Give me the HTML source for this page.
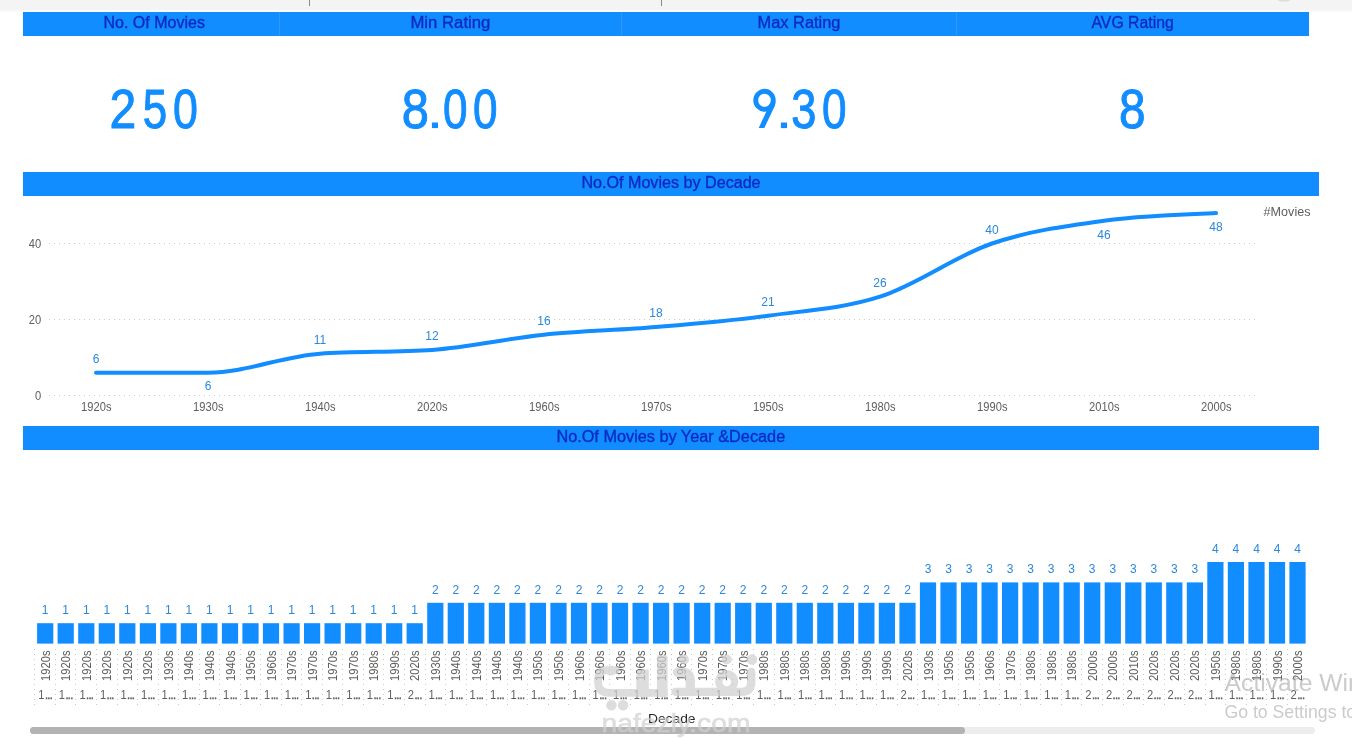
<!DOCTYPE html>
<html><head><meta charset="utf-8"><title>Movies Dashboard</title>
<style>
html,body{margin:0;padding:0;background:#fff;}
body{width:1352px;height:738px;overflow:hidden;position:relative;font-family:"Liberation Sans",sans-serif;}
svg{position:absolute;left:0;top:0;display:block;will-change:transform;opacity:0.999}
text{font-family:"Liberation Sans",sans-serif;}
.h{font-size:16px;fill:#0B2BC4;stroke:#0B2BC4;stroke-width:0.35px;text-anchor:middle}
.big{font-size:55px;fill:#118DFF;text-anchor:middle}
.ax{font-size:12px;fill:#605E5C}
.dl{font-size:12px;fill:#2B88DC;text-anchor:middle}
.grid{stroke:#cdcbc9;stroke-width:1;stroke-dasharray:1 4;fill:none}
.vgrid{stroke:#cbc9c7;stroke-width:1;stroke-dasharray:1 4;fill:none}
</style></head><body>
<svg width="1352" height="738" viewBox="0 0 1352 738">
<rect x="0" y="0" width="1352" height="10.5" fill="#f4f4f4"/>
<rect x="0" y="10.5" width="1352" height="1.5" fill="#f9f9f9"/>
<ellipse cx="1284" cy="0" rx="6" ry="1.6" fill="#dcdcdc"/>
<rect x="309" y="0" width="1" height="6" fill="#8a8a8a"/>
<rect x="661" y="0" width="1" height="6" fill="#8a8a8a"/>
<rect x="23" y="12" width="1286" height="24" fill="#118DFF"/>
<rect x="279" y="12" width="1" height="24" fill="#3aa0ff" opacity="0.6"/>
<rect x="621" y="12" width="1" height="24" fill="#3aa0ff" opacity="0.6"/>
<rect x="956" y="12" width="1" height="24" fill="#3aa0ff" opacity="0.6"/>
<rect x="23" y="172" width="1296" height="24" fill="#118DFF"/>
<rect x="23" y="426" width="1296" height="24" fill="#118DFF"/>
<text class="h" x="154.2" y="27.7" textLength="101.5" lengthAdjust="spacingAndGlyphs">No. Of Movies</text>
<text class="h" x="450.4" y="27.7" textLength="80.0" lengthAdjust="spacingAndGlyphs">Min Rating</text>
<text class="h" x="799.0" y="27.7" textLength="82.8" lengthAdjust="spacingAndGlyphs">Max Rating</text>
<text class="h" x="1132.6" y="27.7" textLength="82.2" lengthAdjust="spacingAndGlyphs">AVG Rating</text>
<text class="h" x="671.0" y="187.7" textLength="179.2" lengthAdjust="spacingAndGlyphs">No.Of Movies by Decade</text>
<text class="h" x="670.8" y="441.7" textLength="228.8" lengthAdjust="spacingAndGlyphs">No.Of Movies by Year &amp;Decade</text>
<text transform="translate(109.38,128.0) scale(0.879,1)" font-size="54.7" fill="#118DFF" stroke="#118DFF" stroke-width="1.0">2</text>
<text transform="translate(142.64,128.0) scale(0.802,1)" font-size="54.7" fill="#118DFF" stroke="#118DFF" stroke-width="1.0">5</text>
<text transform="translate(173.05,128.0) scale(0.818,1)" font-size="54.7" fill="#118DFF" stroke="#118DFF" stroke-width="1.0">0</text>
<text transform="translate(401.68,128.0) scale(0.892,1)" font-size="54.7" fill="#118DFF" stroke="#118DFF" stroke-width="1.0">8</text>
<rect x="431.9" y="122.5" width="6.1" height="5.6" fill="#118DFF"/>
<text transform="translate(442.98,128.0) scale(0.807,1)" font-size="54.7" fill="#118DFF" stroke="#118DFF" stroke-width="1.0">0</text>
<text transform="translate(472.98,128.0) scale(0.807,1)" font-size="54.7" fill="#118DFF" stroke="#118DFF" stroke-width="1.0">0</text>
<rect x="780.9" y="122.5" width="6.1" height="5.6" fill="#118DFF"/>
<text transform="translate(791.18,128.0) scale(0.825,1)" font-size="54.7" fill="#118DFF" stroke="#118DFF" stroke-width="1.0">3</text>
<text transform="translate(821.98,128.0) scale(0.807,1)" font-size="54.7" fill="#118DFF" stroke="#118DFF" stroke-width="1.0">0</text>
<ellipse cx="764.5" cy="100.25" rx="8.75" ry="9.0" fill="none" stroke="#118DFF" stroke-width="4.9"/>
<path d="M770.1,103.2 L775.65,103.2 L775.7,100.2 L775.0,105.5 L764.3,128.1 L758.7,128.1 Z" fill="#118DFF"/>
<text transform="translate(1119.03,128.0) scale(0.873,1)" font-size="54.7" fill="#118DFF" stroke="#118DFF" stroke-width="1.0">8</text>
<line class="grid" x1="49" y1="395.5" x2="1259" y2="395.5"/>
<text class="ax" transform="translate(41.2,399.8) scale(0.93,1)" text-anchor="end">0</text>
<line class="grid" x1="49" y1="319.5" x2="1259" y2="319.5"/>
<text class="ax" transform="translate(41.2,323.8) scale(0.93,1)" text-anchor="end">20</text>
<line class="grid" x1="49" y1="243.5" x2="1259" y2="243.5"/>
<text class="ax" transform="translate(41.2,247.8) scale(0.93,1)" text-anchor="end">40</text>
<path d="M96.0,372.7C133.3,372.7 170.7,372.7 208.0,372.7C245.3,372.7 282.7,356.2 320.0,353.7C357.3,351.2 394.7,352.4 432.0,349.9C469.3,347.4 506.7,338.5 544.0,334.7C581.3,330.9 618.7,330.3 656.0,327.1C693.3,323.9 730.7,320.8 768.0,315.7C805.3,310.6 842.7,308.7 880.0,296.7C917.3,284.7 954.7,256.2 992.0,243.5C1029.3,230.8 1066.7,225.8 1104.0,220.7C1141.3,215.6 1178.7,214.4 1216.0,213.1" fill="none" stroke="#118DFF" stroke-width="4" stroke-linecap="round" stroke-linejoin="round"/>
<text class="dl" x="96.0" y="363.2">6</text>
<text class="dl" x="208.0" y="389.8">6</text>
<text class="dl" x="320.0" y="344.3">11</text>
<text class="dl" x="432.0" y="339.8">12</text>
<text class="dl" x="544.0" y="325.4">16</text>
<text class="dl" x="656.0" y="316.8">18</text>
<text class="dl" x="768.0" y="306.0">21</text>
<text class="dl" x="880.0" y="286.9">26</text>
<text class="dl" x="992.0" y="233.8">40</text>
<text class="dl" x="1104.0" y="238.8">46</text>
<text class="dl" x="1216.0" y="231.1">48</text>
<text class="ax" transform="translate(96.3,411.3) scale(0.93,1)" text-anchor="middle">1920s</text>
<text class="ax" transform="translate(208.3,411.3) scale(0.93,1)" text-anchor="middle">1930s</text>
<text class="ax" transform="translate(320.3,411.3) scale(0.93,1)" text-anchor="middle">1940s</text>
<text class="ax" transform="translate(432.3,411.3) scale(0.93,1)" text-anchor="middle">2020s</text>
<text class="ax" transform="translate(544.3,411.3) scale(0.93,1)" text-anchor="middle">1960s</text>
<text class="ax" transform="translate(656.3,411.3) scale(0.93,1)" text-anchor="middle">1970s</text>
<text class="ax" transform="translate(768.3,411.3) scale(0.93,1)" text-anchor="middle">1950s</text>
<text class="ax" transform="translate(880.3,411.3) scale(0.93,1)" text-anchor="middle">1980s</text>
<text class="ax" transform="translate(992.3,411.3) scale(0.93,1)" text-anchor="middle">1990s</text>
<text class="ax" transform="translate(1104.3,411.3) scale(0.93,1)" text-anchor="middle">2010s</text>
<text class="ax" transform="translate(1216.3,411.3) scale(0.93,1)" text-anchor="middle">2000s</text>
<text class="ax" transform="translate(1310.5,215.8) scale(1.05,1)" text-anchor="end">#Movies</text>
<line class="vgrid" x1="34.5" y1="649" x2="34.5" y2="706"/>
<line class="vgrid" x1="55.5" y1="649" x2="55.5" y2="706"/>
<line class="vgrid" x1="75.5" y1="649" x2="75.5" y2="706"/>
<line class="vgrid" x1="96.5" y1="649" x2="96.5" y2="706"/>
<line class="vgrid" x1="117.5" y1="649" x2="117.5" y2="706"/>
<line class="vgrid" x1="137.5" y1="649" x2="137.5" y2="706"/>
<line class="vgrid" x1="158.5" y1="649" x2="158.5" y2="706"/>
<line class="vgrid" x1="178.5" y1="649" x2="178.5" y2="706"/>
<line class="vgrid" x1="199.5" y1="649" x2="199.5" y2="706"/>
<line class="vgrid" x1="219.5" y1="649" x2="219.5" y2="706"/>
<line class="vgrid" x1="240.5" y1="649" x2="240.5" y2="706"/>
<line class="vgrid" x1="260.5" y1="649" x2="260.5" y2="706"/>
<line class="vgrid" x1="281.5" y1="649" x2="281.5" y2="706"/>
<line class="vgrid" x1="301.5" y1="649" x2="301.5" y2="706"/>
<line class="vgrid" x1="322.5" y1="649" x2="322.5" y2="706"/>
<line class="vgrid" x1="342.5" y1="649" x2="342.5" y2="706"/>
<line class="vgrid" x1="363.5" y1="649" x2="363.5" y2="706"/>
<line class="vgrid" x1="383.5" y1="649" x2="383.5" y2="706"/>
<line class="vgrid" x1="404.5" y1="649" x2="404.5" y2="706"/>
<line class="vgrid" x1="425.5" y1="649" x2="425.5" y2="706"/>
<line class="vgrid" x1="445.5" y1="649" x2="445.5" y2="706"/>
<line class="vgrid" x1="466.5" y1="649" x2="466.5" y2="706"/>
<line class="vgrid" x1="486.5" y1="649" x2="486.5" y2="706"/>
<line class="vgrid" x1="507.5" y1="649" x2="507.5" y2="706"/>
<line class="vgrid" x1="527.5" y1="649" x2="527.5" y2="706"/>
<line class="vgrid" x1="548.5" y1="649" x2="548.5" y2="706"/>
<line class="vgrid" x1="568.5" y1="649" x2="568.5" y2="706"/>
<line class="vgrid" x1="589.5" y1="649" x2="589.5" y2="706"/>
<line class="vgrid" x1="609.5" y1="649" x2="609.5" y2="706"/>
<line class="vgrid" x1="630.5" y1="649" x2="630.5" y2="706"/>
<line class="vgrid" x1="650.5" y1="649" x2="650.5" y2="706"/>
<line class="vgrid" x1="671.5" y1="649" x2="671.5" y2="706"/>
<line class="vgrid" x1="691.5" y1="649" x2="691.5" y2="706"/>
<line class="vgrid" x1="712.5" y1="649" x2="712.5" y2="706"/>
<line class="vgrid" x1="732.5" y1="649" x2="732.5" y2="706"/>
<line class="vgrid" x1="753.5" y1="649" x2="753.5" y2="706"/>
<line class="vgrid" x1="774.5" y1="649" x2="774.5" y2="706"/>
<line class="vgrid" x1="794.5" y1="649" x2="794.5" y2="706"/>
<line class="vgrid" x1="815.5" y1="649" x2="815.5" y2="706"/>
<line class="vgrid" x1="835.5" y1="649" x2="835.5" y2="706"/>
<line class="vgrid" x1="856.5" y1="649" x2="856.5" y2="706"/>
<line class="vgrid" x1="876.5" y1="649" x2="876.5" y2="706"/>
<line class="vgrid" x1="897.5" y1="649" x2="897.5" y2="706"/>
<line class="vgrid" x1="917.5" y1="649" x2="917.5" y2="706"/>
<line class="vgrid" x1="938.5" y1="649" x2="938.5" y2="706"/>
<line class="vgrid" x1="958.5" y1="649" x2="958.5" y2="706"/>
<line class="vgrid" x1="979.5" y1="649" x2="979.5" y2="706"/>
<line class="vgrid" x1="999.5" y1="649" x2="999.5" y2="706"/>
<line class="vgrid" x1="1020.5" y1="649" x2="1020.5" y2="706"/>
<line class="vgrid" x1="1040.5" y1="649" x2="1040.5" y2="706"/>
<line class="vgrid" x1="1061.5" y1="649" x2="1061.5" y2="706"/>
<line class="vgrid" x1="1081.5" y1="649" x2="1081.5" y2="706"/>
<line class="vgrid" x1="1102.5" y1="649" x2="1102.5" y2="706"/>
<line class="vgrid" x1="1123.5" y1="649" x2="1123.5" y2="706"/>
<line class="vgrid" x1="1143.5" y1="649" x2="1143.5" y2="706"/>
<line class="vgrid" x1="1164.5" y1="649" x2="1164.5" y2="706"/>
<line class="vgrid" x1="1184.5" y1="649" x2="1184.5" y2="706"/>
<line class="vgrid" x1="1205.5" y1="649" x2="1205.5" y2="706"/>
<line class="vgrid" x1="1225.5" y1="649" x2="1225.5" y2="706"/>
<line class="vgrid" x1="1246.5" y1="649" x2="1246.5" y2="706"/>
<line class="vgrid" x1="1266.5" y1="649" x2="1266.5" y2="706"/>
<line class="vgrid" x1="1287.5" y1="649" x2="1287.5" y2="706"/>
<rect x="37.1" y="623.2" width="16.2" height="20.4" fill="#118DFF"/>
<text class="dl" x="45.2" y="614.2">1</text>
<text class="ax" transform="translate(49.7,680.9) rotate(-90) scale(0.93,1)">1920s</text>
<text class="ax" transform="translate(38.3,698.6) scale(0.93,1)">1<tspan letter-spacing="-0.75" dx="0.4" stroke="#605E5C" stroke-width="0.45">...</tspan></text>
<rect x="57.6" y="623.2" width="16.2" height="20.4" fill="#118DFF"/>
<text class="dl" x="65.7" y="614.2">1</text>
<text class="ax" transform="translate(70.2,680.9) rotate(-90) scale(0.93,1)">1920s</text>
<text class="ax" transform="translate(58.8,698.6) scale(0.93,1)">1<tspan letter-spacing="-0.75" dx="0.4" stroke="#605E5C" stroke-width="0.45">...</tspan></text>
<rect x="78.2" y="623.2" width="16.2" height="20.4" fill="#118DFF"/>
<text class="dl" x="86.3" y="614.2">1</text>
<text class="ax" transform="translate(90.8,680.9) rotate(-90) scale(0.93,1)">1920s</text>
<text class="ax" transform="translate(79.4,698.6) scale(0.93,1)">1<tspan letter-spacing="-0.75" dx="0.4" stroke="#605E5C" stroke-width="0.45">...</tspan></text>
<rect x="98.7" y="623.2" width="16.2" height="20.4" fill="#118DFF"/>
<text class="dl" x="106.8" y="614.2">1</text>
<text class="ax" transform="translate(111.3,680.9) rotate(-90) scale(0.93,1)">1920s</text>
<text class="ax" transform="translate(99.9,698.6) scale(0.93,1)">1<tspan letter-spacing="-0.75" dx="0.4" stroke="#605E5C" stroke-width="0.45">...</tspan></text>
<rect x="119.2" y="623.2" width="16.2" height="20.4" fill="#118DFF"/>
<text class="dl" x="127.3" y="614.2">1</text>
<text class="ax" transform="translate(131.8,680.9) rotate(-90) scale(0.93,1)">1920s</text>
<text class="ax" transform="translate(120.4,698.6) scale(0.93,1)">1<tspan letter-spacing="-0.75" dx="0.4" stroke="#605E5C" stroke-width="0.45">...</tspan></text>
<rect x="139.8" y="623.2" width="16.2" height="20.4" fill="#118DFF"/>
<text class="dl" x="147.8" y="614.2">1</text>
<text class="ax" transform="translate(152.3,680.9) rotate(-90) scale(0.93,1)">1920s</text>
<text class="ax" transform="translate(140.9,698.6) scale(0.93,1)">1<tspan letter-spacing="-0.75" dx="0.4" stroke="#605E5C" stroke-width="0.45">...</tspan></text>
<rect x="160.3" y="623.2" width="16.2" height="20.4" fill="#118DFF"/>
<text class="dl" x="168.4" y="614.2">1</text>
<text class="ax" transform="translate(172.9,680.9) rotate(-90) scale(0.93,1)">1930s</text>
<text class="ax" transform="translate(161.5,698.6) scale(0.93,1)">1<tspan letter-spacing="-0.75" dx="0.4" stroke="#605E5C" stroke-width="0.45">...</tspan></text>
<rect x="180.8" y="623.2" width="16.2" height="20.4" fill="#118DFF"/>
<text class="dl" x="188.9" y="614.2">1</text>
<text class="ax" transform="translate(193.4,680.9) rotate(-90) scale(0.93,1)">1940s</text>
<text class="ax" transform="translate(182.0,698.6) scale(0.93,1)">1<tspan letter-spacing="-0.75" dx="0.4" stroke="#605E5C" stroke-width="0.45">...</tspan></text>
<rect x="201.3" y="623.2" width="16.2" height="20.4" fill="#118DFF"/>
<text class="dl" x="209.4" y="614.2">1</text>
<text class="ax" transform="translate(213.9,680.9) rotate(-90) scale(0.93,1)">1940s</text>
<text class="ax" transform="translate(202.5,698.6) scale(0.93,1)">1<tspan letter-spacing="-0.75" dx="0.4" stroke="#605E5C" stroke-width="0.45">...</tspan></text>
<rect x="221.9" y="623.2" width="16.2" height="20.4" fill="#118DFF"/>
<text class="dl" x="230.0" y="614.2">1</text>
<text class="ax" transform="translate(234.5,680.9) rotate(-90) scale(0.93,1)">1940s</text>
<text class="ax" transform="translate(223.1,698.6) scale(0.93,1)">1<tspan letter-spacing="-0.75" dx="0.4" stroke="#605E5C" stroke-width="0.45">...</tspan></text>
<rect x="242.4" y="623.2" width="16.2" height="20.4" fill="#118DFF"/>
<text class="dl" x="250.5" y="614.2">1</text>
<text class="ax" transform="translate(255.0,680.9) rotate(-90) scale(0.93,1)">1950s</text>
<text class="ax" transform="translate(243.6,698.6) scale(0.93,1)">1<tspan letter-spacing="-0.75" dx="0.4" stroke="#605E5C" stroke-width="0.45">...</tspan></text>
<rect x="262.9" y="623.2" width="16.2" height="20.4" fill="#118DFF"/>
<text class="dl" x="271.0" y="614.2">1</text>
<text class="ax" transform="translate(275.5,680.9) rotate(-90) scale(0.93,1)">1960s</text>
<text class="ax" transform="translate(264.1,698.6) scale(0.93,1)">1<tspan letter-spacing="-0.75" dx="0.4" stroke="#605E5C" stroke-width="0.45">...</tspan></text>
<rect x="283.5" y="623.2" width="16.2" height="20.4" fill="#118DFF"/>
<text class="dl" x="291.6" y="614.2">1</text>
<text class="ax" transform="translate(296.1,680.9) rotate(-90) scale(0.93,1)">1970s</text>
<text class="ax" transform="translate(284.7,698.6) scale(0.93,1)">1<tspan letter-spacing="-0.75" dx="0.4" stroke="#605E5C" stroke-width="0.45">...</tspan></text>
<rect x="304.0" y="623.2" width="16.2" height="20.4" fill="#118DFF"/>
<text class="dl" x="312.1" y="614.2">1</text>
<text class="ax" transform="translate(316.6,680.9) rotate(-90) scale(0.93,1)">1970s</text>
<text class="ax" transform="translate(305.2,698.6) scale(0.93,1)">1<tspan letter-spacing="-0.75" dx="0.4" stroke="#605E5C" stroke-width="0.45">...</tspan></text>
<rect x="324.5" y="623.2" width="16.2" height="20.4" fill="#118DFF"/>
<text class="dl" x="332.6" y="614.2">1</text>
<text class="ax" transform="translate(337.1,680.9) rotate(-90) scale(0.93,1)">1970s</text>
<text class="ax" transform="translate(325.7,698.6) scale(0.93,1)">1<tspan letter-spacing="-0.75" dx="0.4" stroke="#605E5C" stroke-width="0.45">...</tspan></text>
<rect x="345.1" y="623.2" width="16.2" height="20.4" fill="#118DFF"/>
<text class="dl" x="353.2" y="614.2">1</text>
<text class="ax" transform="translate(357.7,680.9) rotate(-90) scale(0.93,1)">1970s</text>
<text class="ax" transform="translate(346.3,698.6) scale(0.93,1)">1<tspan letter-spacing="-0.75" dx="0.4" stroke="#605E5C" stroke-width="0.45">...</tspan></text>
<rect x="365.6" y="623.2" width="16.2" height="20.4" fill="#118DFF"/>
<text class="dl" x="373.7" y="614.2">1</text>
<text class="ax" transform="translate(378.2,680.9) rotate(-90) scale(0.93,1)">1980s</text>
<text class="ax" transform="translate(366.8,698.6) scale(0.93,1)">1<tspan letter-spacing="-0.75" dx="0.4" stroke="#605E5C" stroke-width="0.45">...</tspan></text>
<rect x="386.1" y="623.2" width="16.2" height="20.4" fill="#118DFF"/>
<text class="dl" x="394.2" y="614.2">1</text>
<text class="ax" transform="translate(398.7,680.9) rotate(-90) scale(0.93,1)">1990s</text>
<text class="ax" transform="translate(387.3,698.6) scale(0.93,1)">1<tspan letter-spacing="-0.75" dx="0.4" stroke="#605E5C" stroke-width="0.45">...</tspan></text>
<rect x="406.6" y="623.2" width="16.2" height="20.4" fill="#118DFF"/>
<text class="dl" x="414.7" y="614.2">1</text>
<text class="ax" transform="translate(419.2,680.9) rotate(-90) scale(0.93,1)">2020s</text>
<text class="ax" transform="translate(407.8,698.6) scale(0.93,1)">2<tspan letter-spacing="-0.75" dx="0.4" stroke="#605E5C" stroke-width="0.45">...</tspan></text>
<rect x="427.2" y="602.8" width="16.2" height="40.8" fill="#118DFF"/>
<text class="dl" x="435.3" y="593.8">2</text>
<text class="ax" transform="translate(439.8,680.9) rotate(-90) scale(0.93,1)">1930s</text>
<text class="ax" transform="translate(428.4,698.6) scale(0.93,1)">1<tspan letter-spacing="-0.75" dx="0.4" stroke="#605E5C" stroke-width="0.45">...</tspan></text>
<rect x="447.7" y="602.8" width="16.2" height="40.8" fill="#118DFF"/>
<text class="dl" x="455.8" y="593.8">2</text>
<text class="ax" transform="translate(460.3,680.9) rotate(-90) scale(0.93,1)">1940s</text>
<text class="ax" transform="translate(448.9,698.6) scale(0.93,1)">1<tspan letter-spacing="-0.75" dx="0.4" stroke="#605E5C" stroke-width="0.45">...</tspan></text>
<rect x="468.2" y="602.8" width="16.2" height="40.8" fill="#118DFF"/>
<text class="dl" x="476.3" y="593.8">2</text>
<text class="ax" transform="translate(480.8,680.9) rotate(-90) scale(0.93,1)">1940s</text>
<text class="ax" transform="translate(469.4,698.6) scale(0.93,1)">1<tspan letter-spacing="-0.75" dx="0.4" stroke="#605E5C" stroke-width="0.45">...</tspan></text>
<rect x="488.8" y="602.8" width="16.2" height="40.8" fill="#118DFF"/>
<text class="dl" x="496.9" y="593.8">2</text>
<text class="ax" transform="translate(501.4,680.9) rotate(-90) scale(0.93,1)">1940s</text>
<text class="ax" transform="translate(490.0,698.6) scale(0.93,1)">1<tspan letter-spacing="-0.75" dx="0.4" stroke="#605E5C" stroke-width="0.45">...</tspan></text>
<rect x="509.3" y="602.8" width="16.2" height="40.8" fill="#118DFF"/>
<text class="dl" x="517.4" y="593.8">2</text>
<text class="ax" transform="translate(521.9,680.9) rotate(-90) scale(0.93,1)">1940s</text>
<text class="ax" transform="translate(510.5,698.6) scale(0.93,1)">1<tspan letter-spacing="-0.75" dx="0.4" stroke="#605E5C" stroke-width="0.45">...</tspan></text>
<rect x="529.8" y="602.8" width="16.2" height="40.8" fill="#118DFF"/>
<text class="dl" x="537.9" y="593.8">2</text>
<text class="ax" transform="translate(542.4,680.9) rotate(-90) scale(0.93,1)">1950s</text>
<text class="ax" transform="translate(531.0,698.6) scale(0.93,1)">1<tspan letter-spacing="-0.75" dx="0.4" stroke="#605E5C" stroke-width="0.45">...</tspan></text>
<rect x="550.4" y="602.8" width="16.2" height="40.8" fill="#118DFF"/>
<text class="dl" x="558.5" y="593.8">2</text>
<text class="ax" transform="translate(563.0,680.9) rotate(-90) scale(0.93,1)">1950s</text>
<text class="ax" transform="translate(551.6,698.6) scale(0.93,1)">1<tspan letter-spacing="-0.75" dx="0.4" stroke="#605E5C" stroke-width="0.45">...</tspan></text>
<rect x="570.9" y="602.8" width="16.2" height="40.8" fill="#118DFF"/>
<text class="dl" x="579.0" y="593.8">2</text>
<text class="ax" transform="translate(583.5,680.9) rotate(-90) scale(0.93,1)">1960s</text>
<text class="ax" transform="translate(572.1,698.6) scale(0.93,1)">1<tspan letter-spacing="-0.75" dx="0.4" stroke="#605E5C" stroke-width="0.45">...</tspan></text>
<rect x="591.4" y="602.8" width="16.2" height="40.8" fill="#118DFF"/>
<text class="dl" x="599.5" y="593.8">2</text>
<text class="ax" transform="translate(604.0,680.9) rotate(-90) scale(0.93,1)">1960s</text>
<text class="ax" transform="translate(592.6,698.6) scale(0.93,1)">1<tspan letter-spacing="-0.75" dx="0.4" stroke="#605E5C" stroke-width="0.45">...</tspan></text>
<rect x="611.9" y="602.8" width="16.2" height="40.8" fill="#118DFF"/>
<text class="dl" x="620.0" y="593.8">2</text>
<text class="ax" transform="translate(624.5,680.9) rotate(-90) scale(0.93,1)">1960s</text>
<text class="ax" transform="translate(613.1,698.6) scale(0.93,1)">1<tspan letter-spacing="-0.75" dx="0.4" stroke="#605E5C" stroke-width="0.45">...</tspan></text>
<rect x="632.5" y="602.8" width="16.2" height="40.8" fill="#118DFF"/>
<text class="dl" x="640.6" y="593.8">2</text>
<text class="ax" transform="translate(645.1,680.9) rotate(-90) scale(0.93,1)">1960s</text>
<text class="ax" transform="translate(633.7,698.6) scale(0.93,1)">1<tspan letter-spacing="-0.75" dx="0.4" stroke="#605E5C" stroke-width="0.45">...</tspan></text>
<rect x="653.0" y="602.8" width="16.2" height="40.8" fill="#118DFF"/>
<text class="dl" x="661.1" y="593.8">2</text>
<text class="ax" transform="translate(665.6,680.9) rotate(-90) scale(0.93,1)">1960s</text>
<text class="ax" transform="translate(654.2,698.6) scale(0.93,1)">1<tspan letter-spacing="-0.75" dx="0.4" stroke="#605E5C" stroke-width="0.45">...</tspan></text>
<rect x="673.5" y="602.8" width="16.2" height="40.8" fill="#118DFF"/>
<text class="dl" x="681.6" y="593.8">2</text>
<text class="ax" transform="translate(686.1,680.9) rotate(-90) scale(0.93,1)">1960s</text>
<text class="ax" transform="translate(674.7,698.6) scale(0.93,1)">1<tspan letter-spacing="-0.75" dx="0.4" stroke="#605E5C" stroke-width="0.45">...</tspan></text>
<rect x="694.1" y="602.8" width="16.2" height="40.8" fill="#118DFF"/>
<text class="dl" x="702.2" y="593.8">2</text>
<text class="ax" transform="translate(706.7,680.9) rotate(-90) scale(0.93,1)">1970s</text>
<text class="ax" transform="translate(695.3,698.6) scale(0.93,1)">1<tspan letter-spacing="-0.75" dx="0.4" stroke="#605E5C" stroke-width="0.45">...</tspan></text>
<rect x="714.6" y="602.8" width="16.2" height="40.8" fill="#118DFF"/>
<text class="dl" x="722.7" y="593.8">2</text>
<text class="ax" transform="translate(727.2,680.9) rotate(-90) scale(0.93,1)">1970s</text>
<text class="ax" transform="translate(715.8,698.6) scale(0.93,1)">1<tspan letter-spacing="-0.75" dx="0.4" stroke="#605E5C" stroke-width="0.45">...</tspan></text>
<rect x="735.1" y="602.8" width="16.2" height="40.8" fill="#118DFF"/>
<text class="dl" x="743.2" y="593.8">2</text>
<text class="ax" transform="translate(747.7,680.9) rotate(-90) scale(0.93,1)">1970s</text>
<text class="ax" transform="translate(736.3,698.6) scale(0.93,1)">1<tspan letter-spacing="-0.75" dx="0.4" stroke="#605E5C" stroke-width="0.45">...</tspan></text>
<rect x="755.7" y="602.8" width="16.2" height="40.8" fill="#118DFF"/>
<text class="dl" x="763.8" y="593.8">2</text>
<text class="ax" transform="translate(768.3,680.9) rotate(-90) scale(0.93,1)">1980s</text>
<text class="ax" transform="translate(756.9,698.6) scale(0.93,1)">1<tspan letter-spacing="-0.75" dx="0.4" stroke="#605E5C" stroke-width="0.45">...</tspan></text>
<rect x="776.2" y="602.8" width="16.2" height="40.8" fill="#118DFF"/>
<text class="dl" x="784.3" y="593.8">2</text>
<text class="ax" transform="translate(788.8,680.9) rotate(-90) scale(0.93,1)">1980s</text>
<text class="ax" transform="translate(777.4,698.6) scale(0.93,1)">1<tspan letter-spacing="-0.75" dx="0.4" stroke="#605E5C" stroke-width="0.45">...</tspan></text>
<rect x="796.7" y="602.8" width="16.2" height="40.8" fill="#118DFF"/>
<text class="dl" x="804.8" y="593.8">2</text>
<text class="ax" transform="translate(809.3,680.9) rotate(-90) scale(0.93,1)">1980s</text>
<text class="ax" transform="translate(797.9,698.6) scale(0.93,1)">1<tspan letter-spacing="-0.75" dx="0.4" stroke="#605E5C" stroke-width="0.45">...</tspan></text>
<rect x="817.2" y="602.8" width="16.2" height="40.8" fill="#118DFF"/>
<text class="dl" x="825.3" y="593.8">2</text>
<text class="ax" transform="translate(829.8,680.9) rotate(-90) scale(0.93,1)">1980s</text>
<text class="ax" transform="translate(818.4,698.6) scale(0.93,1)">1<tspan letter-spacing="-0.75" dx="0.4" stroke="#605E5C" stroke-width="0.45">...</tspan></text>
<rect x="837.8" y="602.8" width="16.2" height="40.8" fill="#118DFF"/>
<text class="dl" x="845.9" y="593.8">2</text>
<text class="ax" transform="translate(850.4,680.9) rotate(-90) scale(0.93,1)">1990s</text>
<text class="ax" transform="translate(839.0,698.6) scale(0.93,1)">1<tspan letter-spacing="-0.75" dx="0.4" stroke="#605E5C" stroke-width="0.45">...</tspan></text>
<rect x="858.3" y="602.8" width="16.2" height="40.8" fill="#118DFF"/>
<text class="dl" x="866.4" y="593.8">2</text>
<text class="ax" transform="translate(870.9,680.9) rotate(-90) scale(0.93,1)">1990s</text>
<text class="ax" transform="translate(859.5,698.6) scale(0.93,1)">1<tspan letter-spacing="-0.75" dx="0.4" stroke="#605E5C" stroke-width="0.45">...</tspan></text>
<rect x="878.8" y="602.8" width="16.2" height="40.8" fill="#118DFF"/>
<text class="dl" x="886.9" y="593.8">2</text>
<text class="ax" transform="translate(891.4,680.9) rotate(-90) scale(0.93,1)">1990s</text>
<text class="ax" transform="translate(880.0,698.6) scale(0.93,1)">1<tspan letter-spacing="-0.75" dx="0.4" stroke="#605E5C" stroke-width="0.45">...</tspan></text>
<rect x="899.4" y="602.8" width="16.2" height="40.8" fill="#118DFF"/>
<text class="dl" x="907.5" y="593.8">2</text>
<text class="ax" transform="translate(912.0,680.9) rotate(-90) scale(0.93,1)">2020s</text>
<text class="ax" transform="translate(900.6,698.6) scale(0.93,1)">2<tspan letter-spacing="-0.75" dx="0.4" stroke="#605E5C" stroke-width="0.45">...</tspan></text>
<rect x="919.9" y="582.4" width="16.2" height="61.2" fill="#118DFF"/>
<text class="dl" x="928.0" y="573.4">3</text>
<text class="ax" transform="translate(932.5,680.9) rotate(-90) scale(0.93,1)">1930s</text>
<text class="ax" transform="translate(921.1,698.6) scale(0.93,1)">1<tspan letter-spacing="-0.75" dx="0.4" stroke="#605E5C" stroke-width="0.45">...</tspan></text>
<rect x="940.4" y="582.4" width="16.2" height="61.2" fill="#118DFF"/>
<text class="dl" x="948.5" y="573.4">3</text>
<text class="ax" transform="translate(953.0,680.9) rotate(-90) scale(0.93,1)">1950s</text>
<text class="ax" transform="translate(941.6,698.6) scale(0.93,1)">1<tspan letter-spacing="-0.75" dx="0.4" stroke="#605E5C" stroke-width="0.45">...</tspan></text>
<rect x="961.0" y="582.4" width="16.2" height="61.2" fill="#118DFF"/>
<text class="dl" x="969.1" y="573.4">3</text>
<text class="ax" transform="translate(973.6,680.9) rotate(-90) scale(0.93,1)">1950s</text>
<text class="ax" transform="translate(962.2,698.6) scale(0.93,1)">1<tspan letter-spacing="-0.75" dx="0.4" stroke="#605E5C" stroke-width="0.45">...</tspan></text>
<rect x="981.5" y="582.4" width="16.2" height="61.2" fill="#118DFF"/>
<text class="dl" x="989.6" y="573.4">3</text>
<text class="ax" transform="translate(994.1,680.9) rotate(-90) scale(0.93,1)">1960s</text>
<text class="ax" transform="translate(982.7,698.6) scale(0.93,1)">1<tspan letter-spacing="-0.75" dx="0.4" stroke="#605E5C" stroke-width="0.45">...</tspan></text>
<rect x="1002.0" y="582.4" width="16.2" height="61.2" fill="#118DFF"/>
<text class="dl" x="1010.1" y="573.4">3</text>
<text class="ax" transform="translate(1014.6,680.9) rotate(-90) scale(0.93,1)">1970s</text>
<text class="ax" transform="translate(1003.2,698.6) scale(0.93,1)">1<tspan letter-spacing="-0.75" dx="0.4" stroke="#605E5C" stroke-width="0.45">...</tspan></text>
<rect x="1022.5" y="582.4" width="16.2" height="61.2" fill="#118DFF"/>
<text class="dl" x="1030.6" y="573.4">3</text>
<text class="ax" transform="translate(1035.1,680.9) rotate(-90) scale(0.93,1)">1980s</text>
<text class="ax" transform="translate(1023.7,698.6) scale(0.93,1)">1<tspan letter-spacing="-0.75" dx="0.4" stroke="#605E5C" stroke-width="0.45">...</tspan></text>
<rect x="1043.1" y="582.4" width="16.2" height="61.2" fill="#118DFF"/>
<text class="dl" x="1051.2" y="573.4">3</text>
<text class="ax" transform="translate(1055.7,680.9) rotate(-90) scale(0.93,1)">1980s</text>
<text class="ax" transform="translate(1044.3,698.6) scale(0.93,1)">1<tspan letter-spacing="-0.75" dx="0.4" stroke="#605E5C" stroke-width="0.45">...</tspan></text>
<rect x="1063.6" y="582.4" width="16.2" height="61.2" fill="#118DFF"/>
<text class="dl" x="1071.7" y="573.4">3</text>
<text class="ax" transform="translate(1076.2,680.9) rotate(-90) scale(0.93,1)">1980s</text>
<text class="ax" transform="translate(1064.8,698.6) scale(0.93,1)">1<tspan letter-spacing="-0.75" dx="0.4" stroke="#605E5C" stroke-width="0.45">...</tspan></text>
<rect x="1084.1" y="582.4" width="16.2" height="61.2" fill="#118DFF"/>
<text class="dl" x="1092.2" y="573.4">3</text>
<text class="ax" transform="translate(1096.7,680.9) rotate(-90) scale(0.93,1)">2000s</text>
<text class="ax" transform="translate(1085.3,698.6) scale(0.93,1)">2<tspan letter-spacing="-0.75" dx="0.4" stroke="#605E5C" stroke-width="0.45">...</tspan></text>
<rect x="1104.7" y="582.4" width="16.2" height="61.2" fill="#118DFF"/>
<text class="dl" x="1112.8" y="573.4">3</text>
<text class="ax" transform="translate(1117.3,680.9) rotate(-90) scale(0.93,1)">2000s</text>
<text class="ax" transform="translate(1105.9,698.6) scale(0.93,1)">2<tspan letter-spacing="-0.75" dx="0.4" stroke="#605E5C" stroke-width="0.45">...</tspan></text>
<rect x="1125.2" y="582.4" width="16.2" height="61.2" fill="#118DFF"/>
<text class="dl" x="1133.3" y="573.4">3</text>
<text class="ax" transform="translate(1137.8,680.9) rotate(-90) scale(0.93,1)">2010s</text>
<text class="ax" transform="translate(1126.4,698.6) scale(0.93,1)">2<tspan letter-spacing="-0.75" dx="0.4" stroke="#605E5C" stroke-width="0.45">...</tspan></text>
<rect x="1145.7" y="582.4" width="16.2" height="61.2" fill="#118DFF"/>
<text class="dl" x="1153.8" y="573.4">3</text>
<text class="ax" transform="translate(1158.3,680.9) rotate(-90) scale(0.93,1)">2020s</text>
<text class="ax" transform="translate(1146.9,698.6) scale(0.93,1)">2<tspan letter-spacing="-0.75" dx="0.4" stroke="#605E5C" stroke-width="0.45">...</tspan></text>
<rect x="1166.2" y="582.4" width="16.2" height="61.2" fill="#118DFF"/>
<text class="dl" x="1174.3" y="573.4">3</text>
<text class="ax" transform="translate(1178.8,680.9) rotate(-90) scale(0.93,1)">2020s</text>
<text class="ax" transform="translate(1167.5,698.6) scale(0.93,1)">2<tspan letter-spacing="-0.75" dx="0.4" stroke="#605E5C" stroke-width="0.45">...</tspan></text>
<rect x="1186.8" y="582.4" width="16.2" height="61.2" fill="#118DFF"/>
<text class="dl" x="1194.9" y="573.4">3</text>
<text class="ax" transform="translate(1199.4,680.9) rotate(-90) scale(0.93,1)">2020s</text>
<text class="ax" transform="translate(1188.0,698.6) scale(0.93,1)">2<tspan letter-spacing="-0.75" dx="0.4" stroke="#605E5C" stroke-width="0.45">...</tspan></text>
<rect x="1207.3" y="562.0" width="16.2" height="81.6" fill="#118DFF"/>
<text class="dl" x="1215.4" y="553.0">4</text>
<text class="ax" transform="translate(1219.9,680.9) rotate(-90) scale(0.93,1)">1950s</text>
<text class="ax" transform="translate(1208.5,698.6) scale(0.93,1)">1<tspan letter-spacing="-0.75" dx="0.4" stroke="#605E5C" stroke-width="0.45">...</tspan></text>
<rect x="1227.8" y="562.0" width="16.2" height="81.6" fill="#118DFF"/>
<text class="dl" x="1235.9" y="553.0">4</text>
<text class="ax" transform="translate(1240.4,680.9) rotate(-90) scale(0.93,1)">1980s</text>
<text class="ax" transform="translate(1229.0,698.6) scale(0.93,1)">1<tspan letter-spacing="-0.75" dx="0.4" stroke="#605E5C" stroke-width="0.45">...</tspan></text>
<rect x="1248.4" y="562.0" width="16.2" height="81.6" fill="#118DFF"/>
<text class="dl" x="1256.5" y="553.0">4</text>
<text class="ax" transform="translate(1261.0,680.9) rotate(-90) scale(0.93,1)">1980s</text>
<text class="ax" transform="translate(1249.6,698.6) scale(0.93,1)">1<tspan letter-spacing="-0.75" dx="0.4" stroke="#605E5C" stroke-width="0.45">...</tspan></text>
<rect x="1268.9" y="562.0" width="16.2" height="81.6" fill="#118DFF"/>
<text class="dl" x="1277.0" y="553.0">4</text>
<text class="ax" transform="translate(1281.5,680.9) rotate(-90) scale(0.93,1)">1990s</text>
<text class="ax" transform="translate(1270.1,698.6) scale(0.93,1)">1<tspan letter-spacing="-0.75" dx="0.4" stroke="#605E5C" stroke-width="0.45">...</tspan></text>
<rect x="1289.4" y="562.0" width="16.2" height="81.6" fill="#118DFF"/>
<text class="dl" x="1297.5" y="553.0">4</text>
<text class="ax" transform="translate(1302.0,680.9) rotate(-90) scale(0.93,1)">2000s</text>
<text class="ax" transform="translate(1290.6,698.6) scale(0.93,1)">2<tspan letter-spacing="-0.75" dx="0.4" stroke="#605E5C" stroke-width="0.45">...</tspan></text>
<text transform="translate(671.7,723) scale(1.03,1)" text-anchor="middle" font-size="13.4" fill="#252423">Decade</text>
<rect x="30" y="727" width="1285" height="7" rx="3.5" fill="#ededed"/>
<rect x="30" y="727" width="935" height="7" rx="3.5" fill="#b3b3b3"/>
<g opacity="0.72" fill="#d0d0d0" stroke="none">
<path d="M615.5,670.2 L607,670.2 Q598,670.5 598,681 Q598,692.9 609,692.9 L664,692.9" fill="none" stroke="#d0d0d0" stroke-width="7.8" stroke-linecap="round" stroke-linejoin="round"/>
<circle cx="611" cy="670.6" r="5"/>
<path d="M636.3,696.8 L636.3,675.5 Q636.3,669.5 642.3,669.5 L648.8,669.5 L648.8,696.8 Z"/>
<path d="M656.9,696.8 L656.9,657.2 Q656.9,655.2 658.9,655.2 L665.6,655.2 Q667.6,655.2 667.6,657.2 L667.6,696.8 Z"/>
<circle cx="611.4" cy="705.3" r="5.3"/><circle cx="623.1" cy="705.3" r="5.3"/>
<path d="M675.5,691.9 L742,691.9 Q751.2,691.9 751.2,682 L751.2,672" fill="none" stroke="#d0d0d0" stroke-width="8.4" stroke-linecap="round" stroke-linejoin="round"/>
<path d="M677.5,672.3 L682,672.3 Q690.3,672.3 690.3,681 L690.3,690" fill="none" stroke="#d0d0d0" stroke-width="9.4" stroke-linecap="round" stroke-linejoin="round"/>
<path fill-rule="evenodd" d="M715.2,681.5 a11.5,11.5 0 1,0 23,0 a11.5,11.5 0 1,0 -23,0 Z M722.4,682 a4.3,4.3 0 1,0 8.6,0 a4.3,4.3 0 1,0 -8.6,0 Z"/>
<circle cx="683.9" cy="659.5" r="5.1"/><circle cx="726.7" cy="659.5" r="5.1"/><circle cx="751.9" cy="659.5" r="5.3"/>
<text x="676" y="731.6" font-size="26.5" stroke="#d0d0d0" stroke-width="0.6" text-anchor="middle" textLength="149" lengthAdjust="spacingAndGlyphs">nafezly.com</text>
</g>
<text x="1224.6" y="691.1" font-size="24.7" fill="#a0a0a0" opacity="0.55">Activate Windows</text>
<text x="1224.4" y="717.7" font-size="17.7" fill="#a0a0a0" opacity="0.55">Go to Settings to activate Windows.</text>
</svg>
</body></html>
